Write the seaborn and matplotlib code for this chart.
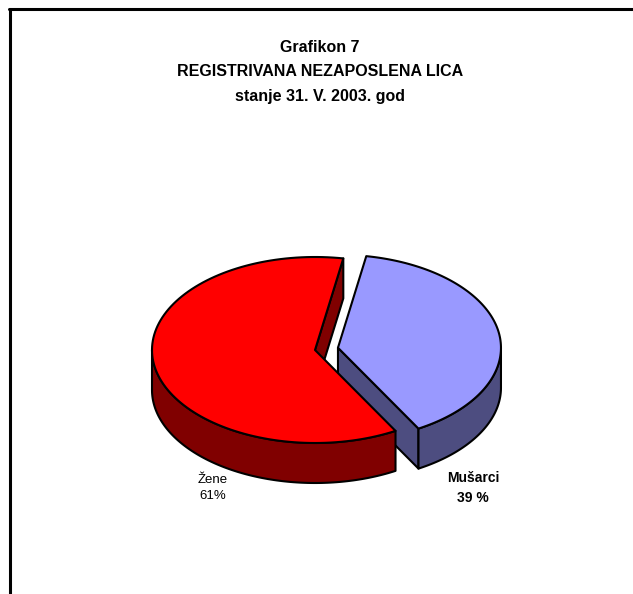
import numpy as np
import matplotlib
matplotlib.use("Agg")
import matplotlib.pyplot as plt
from matplotlib.patches import Polygon
from matplotlib.lines import Line2D
import seaborn as sns

# data
labels = ["Žene", "Mušarci"]
values = [61, 39]
pct_text = ["61%", "39 %"]
top_colors = ["#FF0000", "#9999FF"]
side_colors = ["#800000", "#4D4D80"]
explode = [0.0, 0.143]
title_lines = ["Grafikon 7", "REGISTRIVANA NEZAPOSLENA LICA", "stanje 31. V. 2003. god"]

sns.set_theme(style="white")
plt.rcParams["font.family"] = ["Liberation Sans", "DejaVu Sans"]
plt.rcParams["text.color"] = "black"

W, H = 633, 594
fig = plt.figure(figsize=(W / 100, H / 100), dpi=100)
fig.patch.set_facecolor("white")

# pie geometry (pixels -> data units of one radius)
cx_px, cy_px, r_px = 315, 350, 163
tilt = 93 / 163
depth = 40 / 163
ax = fig.add_axes([0, 0, 1, 1])
ax.set_xlim(-cx_px / r_px, (W - cx_px) / r_px)
ax.set_ylim(-(H - cy_px) / r_px, cy_px / r_px)
ax.axis("off")

start = 80.0
fracs = np.array(values) / np.sum(values)
bounds = start + np.concatenate([[0], np.cumsum(fracs) * 360])


def arc(c, t1, t2, dz=0.0, n=120):
    t = np.radians(np.linspace(t1, t2, n))
    return np.column_stack([c[0] + np.cos(t), c[1] + tilt * np.sin(t) - dz])


def draw_wedge(i, z):
    t1, t2 = bounds[i], bounds[i + 1]
    mid = np.radians((t1 + t2) / 2)
    c = (explode[i] * np.cos(mid), explode[i] * tilt * np.sin(mid))
    ec = dict(edgecolor="black", linewidth=1.5, joinstyle="round")
    # radial cut faces
    for t, vis in [(t1, np.cos(np.radians(t1)) > 0), (t2, np.cos(np.radians(t2)) < 0)]:
        if vis:
            e = (c[0] + np.cos(np.radians(t)), c[1] + tilt * np.sin(np.radians(t)))
            pts = [c, e, (e[0], e[1] - depth), (c[0], c[1] - depth)]
            ax.add_patch(Polygon(pts, closed=True, facecolor=side_colors[i], zorder=z, **ec))
    # outer front wall
    for k in range(-1, 2):
        a = max(t1, 180 + 360 * k)
        b = min(t2, 360 + 360 * k)
        if b > a:
            top = arc(c, a, b)
            bot = arc(c, a, b, depth)[::-1]
            ax.add_patch(Polygon(np.vstack([top, bot]), closed=True,
                                 facecolor=side_colors[i], zorder=z, **ec))
    # top face
    pts = np.vstack([[c], arc(c, t1, t2)])
    ax.add_patch(Polygon(pts, closed=True, facecolor=top_colors[i], zorder=z + 1, **ec))


draw_wedge(1, 1)
draw_wedge(0, 3)

# labels
ax.text(213 / W, 1 - 488 / H, labels[0] + "\n" + pct_text[0], transform=fig.transFigure,
        ha="center", va="center", fontsize=9.5, linespacing=1.55, color="black")
ax.text(473 / W, 1 - 488 / H, labels[1] + "\n" + pct_text[1], transform=fig.transFigure,
        ha="center", va="center", fontsize=10, fontweight="bold", linespacing=1.5, color="black")

# title
fig.text(320 / W, 1 - 72 / H, "\n".join(title_lines), ha="center", va="center",
         fontsize=11.5, fontweight="bold", linespacing=1.8, color="black")

# chart frame (top and left edges visible)
fig.add_artist(Line2D([10 / W, 10 / W], [0, 1 - 9 / H], color="black", linewidth=2.2,
                      transform=fig.transFigure))
fig.add_artist(Line2D([9 / W, 1], [1 - 9 / H, 1 - 9 / H], color="black", linewidth=2.2,
                      transform=fig.transFigure))

fig.savefig("out.png", dpi=100, facecolor="white")
